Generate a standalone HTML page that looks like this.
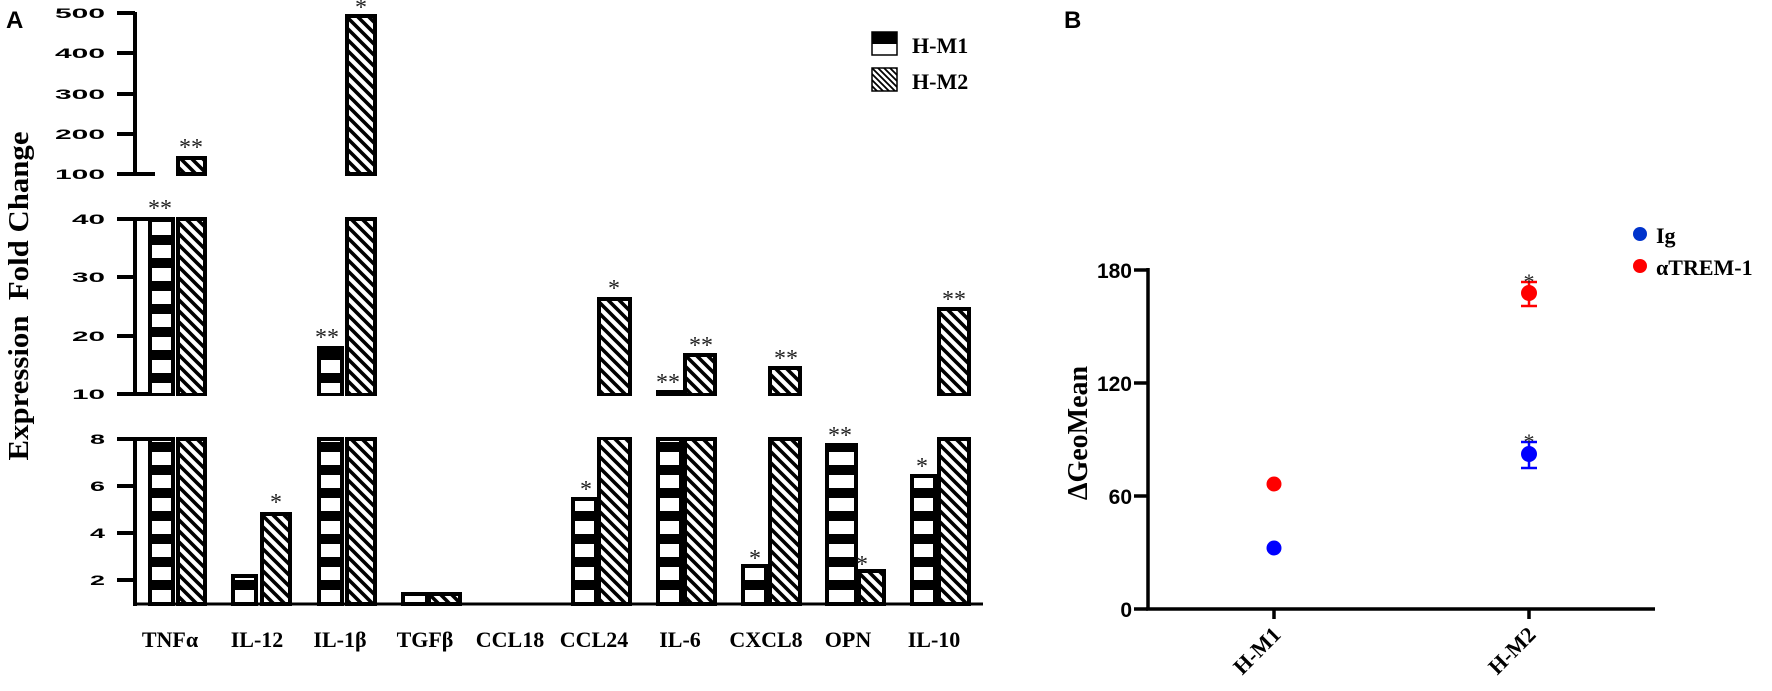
<!DOCTYPE html>
<html><head><meta charset="utf-8"><style>html,body{margin:0;padding:0;background:#fff}svg{display:block}</style></head>
<body>
<svg width="1772" height="691" viewBox="0 0 1772 691" xmlns="http://www.w3.org/2000/svg">
<defs>
<pattern id="hz" patternUnits="userSpaceOnUse" width="40" height="23" y="0">
<rect width="40" height="23" fill="#fff"/><rect y="5" width="40" height="10" fill="#000"/>
</pattern>
<pattern id="dg" patternUnits="userSpaceOnUse" width="11" height="11">
<rect width="11" height="11" fill="#fff"/>
<path d="M-3,-3 L14,14 M-3,8 L3,14 M8,-3 L14,3" stroke="#000" stroke-width="3.6"/>
</pattern>
<pattern id="dgs" patternUnits="userSpaceOnUse" width="6" height="6">
<rect width="6" height="6" fill="#fff"/>
<path d="M-2,-2 L8,8 M-2,4 L2,8 M4,-2 L8,2" stroke="#000" stroke-width="1.8"/>
</pattern>
</defs>
<g font-family="Liberation Sans, sans-serif" font-weight="bold" font-size="24">
<text x="6" y="28">A</text><text x="1064" y="28">B</text>
</g>
<text transform="translate(28,296) rotate(-90)" text-anchor="middle" font-family="Liberation Serif, serif" font-weight="bold" font-size="28" textLength="329" lengthAdjust="spacingAndGlyphs" xml:space="preserve">Expression  Fold Change</text>
<g stroke="#000" stroke-width="4" fill="none">
<line x1="135" y1="12" x2="135" y2="175"/>
<line x1="135" y1="218" x2="135" y2="396"/>
<line x1="135" y1="438" x2="135" y2="606"/>
<line x1="133" y1="604" x2="983" y2="604" stroke-width="3"/>
<line x1="117" y1="13" x2="135" y2="13"/><line x1="117" y1="53" x2="135" y2="53"/><line x1="117" y1="94" x2="135" y2="94"/><line x1="117" y1="134" x2="135" y2="134"/><line x1="117" y1="174" x2="155" y2="174"/>
<line x1="117" y1="219" x2="155" y2="219"/><line x1="117" y1="277" x2="135" y2="277"/><line x1="117" y1="336" x2="135" y2="336"/><line x1="117" y1="394" x2="155" y2="394"/>
<line x1="117" y1="439" x2="148" y2="439"/><line x1="117" y1="486" x2="135" y2="486"/><line x1="117" y1="533" x2="135" y2="533"/><line x1="117" y1="580" x2="135" y2="580"/>
</g>
<g font-family="Liberation Sans, sans-serif" font-weight="bold" font-size="14" text-anchor="end" lengthAdjust="spacingAndGlyphs">
<text x="105" y="18" textLength="50" lengthAdjust="spacingAndGlyphs">500</text><text x="105" y="58" textLength="50" lengthAdjust="spacingAndGlyphs">400</text><text x="105" y="99" textLength="50" lengthAdjust="spacingAndGlyphs">300</text><text x="105" y="139" textLength="50" lengthAdjust="spacingAndGlyphs">200</text><text x="105" y="179" textLength="50" lengthAdjust="spacingAndGlyphs">100</text>
<text x="105" y="224" textLength="33" lengthAdjust="spacingAndGlyphs">40</text><text x="105" y="282" textLength="33" lengthAdjust="spacingAndGlyphs">30</text><text x="105" y="341" textLength="33" lengthAdjust="spacingAndGlyphs">20</text><text x="105" y="399" textLength="33" lengthAdjust="spacingAndGlyphs">10</text>
<text x="105" y="444" textLength="15" lengthAdjust="spacingAndGlyphs">8</text><text x="105" y="491" textLength="15" lengthAdjust="spacingAndGlyphs">6</text><text x="105" y="538" textLength="15" lengthAdjust="spacingAndGlyphs">4</text><text x="105" y="585" textLength="15" lengthAdjust="spacingAndGlyphs">2</text>
</g>
<g stroke="#000" stroke-width="4">
<rect x="150" y="439" width="23" height="165" fill="url(#hz)"/><rect x="150" y="219" width="23" height="176" fill="url(#hz)"/>
<rect x="178" y="439" width="27" height="165" fill="url(#dg)"/><rect x="178" y="219" width="27" height="176" fill="url(#dg)"/><rect x="178" y="158" width="27" height="16" fill="url(#dg)"/>
<rect x="233" y="576" width="23" height="28" fill="url(#hz)"/><rect x="262" y="514" width="28" height="90" fill="url(#dg)"/>
<rect x="319" y="439" width="23" height="165" fill="url(#hz)"/><rect x="319" y="348" width="23" height="47" fill="url(#hz)"/>
<rect x="347" y="439" width="28" height="165" fill="url(#dg)"/><rect x="347" y="219" width="28" height="176" fill="url(#dg)"/><rect x="347" y="16" width="28" height="158" fill="url(#dg)"/>
<rect x="403" y="594" width="24" height="10" fill="url(#hz)"/><rect x="429" y="594" width="31" height="10" fill="url(#dg)"/>
<rect x="573" y="499" width="23" height="105" fill="url(#hz)"/>
<rect x="599" y="438" width="31" height="166" fill="url(#dg)"/><rect x="599" y="299" width="31" height="96" fill="url(#dg)"/>
<rect x="658" y="439" width="23" height="165" fill="url(#hz)"/><rect x="658" y="392" width="23" height="3" fill="url(#hz)"/>
<rect x="685" y="439" width="30" height="165" fill="url(#dg)"/><rect x="685" y="355" width="30" height="40" fill="url(#dg)"/>
<rect x="743" y="566" width="23" height="38" fill="url(#hz)"/>
<rect x="770" y="439" width="30" height="165" fill="url(#dg)"/><rect x="770" y="368" width="30" height="27" fill="url(#dg)"/>
<rect x="827" y="445" width="29" height="159" fill="url(#hz)"/><rect x="859" y="571" width="25" height="33" fill="url(#dg)"/>
<rect x="912" y="476" width="23" height="128" fill="url(#hz)"/>
<rect x="939" y="439" width="30" height="165" fill="url(#dg)"/><rect x="939" y="309" width="30" height="86" fill="url(#dg)"/>
</g>
<g fill="#fff">
<rect x="140" y="396" width="850" height="41"/>
<rect x="140" y="176" width="850" height="41"/>
</g>
<g font-family="Liberation Serif, serif" font-size="24" text-anchor="middle" fill="#222">
<text x="160" y="216">**</text><text x="191" y="155">**</text>
<text x="276" y="510">*</text>
<text x="327" y="345">**</text><text x="361" y="15">*</text>
<text x="614" y="296">*</text><text x="586" y="497">*</text>
<text x="668" y="390">**</text><text x="701" y="353">**</text>
<text x="755" y="566">*</text><text x="786" y="366">**</text>
<text x="840" y="443">**</text><text x="862" y="572">*</text>
<text x="922" y="474">*</text><text x="954" y="307">**</text>
</g>
<g font-family="Liberation Serif, serif" font-weight="bold" font-size="22" text-anchor="middle">
<text x="170" y="647">TNFα</text><text x="257" y="647">IL-12</text><text x="340" y="647">IL-1β</text><text x="425" y="647">TGFβ</text><text x="510" y="647">CCL18</text><text x="594" y="647">CCL24</text><text x="680" y="647">IL-6</text><text x="766" y="647">CXCL8</text><text x="848" y="647">OPN</text><text x="934" y="647">IL-10</text>
</g>
<rect x="872" y="32" width="25" height="23" fill="#fff" stroke="#000" stroke-width="1.5"/><rect x="872" y="32" width="25" height="12" fill="#000"/>
<rect x="872" y="68" width="25" height="23" fill="url(#dgs)" stroke="#000" stroke-width="1.5"/>
<g font-family="Liberation Serif, serif" font-weight="bold" font-size="22">
<text x="912" y="53">H-M1</text><text x="912" y="89">H-M2</text>
</g>
<text transform="translate(1087,433) rotate(-90)" text-anchor="middle" font-family="Liberation Serif, serif" font-weight="bold" font-size="28">ΔGeoMean</text>
<g stroke="#000" stroke-width="3.5">
<line x1="1148" y1="268" x2="1148" y2="610"/>
<line x1="1146" y1="609" x2="1655" y2="609"/>
<line x1="1134" y1="270" x2="1148" y2="270"/><line x1="1134" y1="383" x2="1148" y2="383"/><line x1="1134" y1="496" x2="1148" y2="496"/><line x1="1134" y1="609" x2="1148" y2="609"/>
<line x1="1274" y1="609" x2="1274" y2="619"/><line x1="1529" y1="609" x2="1529" y2="619"/>
</g>
<g font-family="Liberation Sans, sans-serif" font-weight="bold" font-size="21" text-anchor="end">
<text x="1132" y="278">180</text><text x="1132" y="391">120</text><text x="1132" y="504">60</text><text x="1132" y="617">0</text>
</g>
<g font-family="Liberation Serif, serif" font-weight="bold" font-size="22" text-anchor="end">
<text transform="translate(1282,636) rotate(-45)">H-M1</text>
<text transform="translate(1537,636) rotate(-45)">H-M2</text>
</g>
<circle cx="1274" cy="484" r="7.5" fill="#ff0000"/>
<circle cx="1274" cy="548" r="7.5" fill="#0000ff"/>
<g stroke="#ff0000" stroke-width="2.5"><line x1="1529" y1="282" x2="1529" y2="306"/><line x1="1521" y1="282" x2="1537" y2="282"/><line x1="1521" y1="306" x2="1537" y2="306"/></g>
<circle cx="1529" cy="293" r="8" fill="#ff0000"/>
<g stroke="#0000ff" stroke-width="2.5"><line x1="1529" y1="442" x2="1529" y2="468"/><line x1="1521" y1="442" x2="1537" y2="442"/><line x1="1521" y1="468" x2="1537" y2="468"/></g>
<circle cx="1529" cy="454" r="8" fill="#0000ff"/>
<g font-family="Liberation Serif, serif" font-size="22" text-anchor="middle" fill="#222"><text x="1529" y="289">*</text><text x="1529" y="449">*</text></g>
<circle cx="1640" cy="234" r="7" fill="#0033cc"/>
<circle cx="1640" cy="266" r="7" fill="#ff0000"/>
<g font-family="Liberation Serif, serif" font-weight="bold" font-size="22">
<text x="1656" y="243">Ig</text><text x="1656" y="275">αTREM-1</text>
</g>
</svg>
</body></html>
